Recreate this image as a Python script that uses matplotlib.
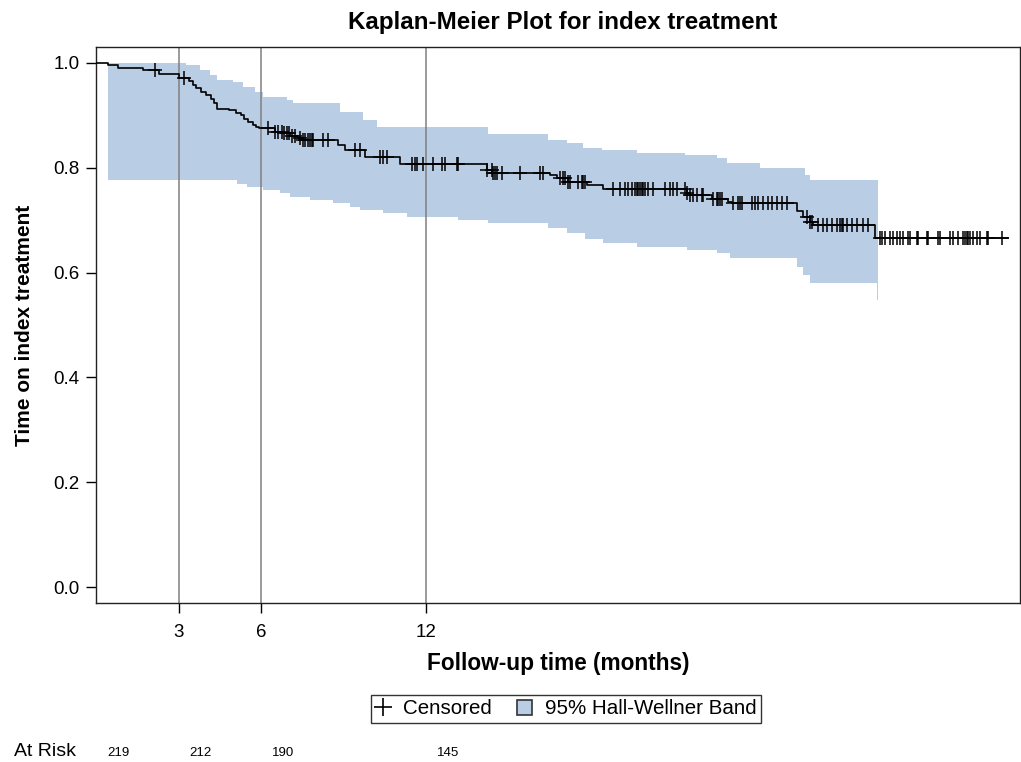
import numpy as np
import matplotlib
matplotlib.use("Agg")
import matplotlib.pyplot as plt
import matplotlib.transforms as mtransforms
from matplotlib.lines import Line2D
from matplotlib.patches import Patch

# Kaplan-Meier estimate (months, survival after each drop)
event_times = [0, 0.42, 0.79, 1.70, 2.30, 3.00, 3.39, 3.52, 3.64, 3.82, 4.00, 4.18,
               4.30, 4.39, 4.85, 5.09, 5.27, 5.39, 5.52, 5.70, 5.82, 5.94, 6.51, 6.81,
               7.05, 7.30, 7.54, 8.81, 9.05, 9.78, 11.05, 14.20, 14.40, 16.51, 16.75,
               17.17, 17.84, 18.44, 21.48, 21.60, 22.39, 22.99, 23.12, 25.48, 25.72,
               25.96, 26.08, 28.33]
survival = [1.0, 0.996, 0.990, 0.987, 0.979, 0.972, 0.965, 0.958, 0.952, 0.945, 0.939,
            0.932, 0.923, 0.913, 0.910, 0.905, 0.900, 0.894, 0.888, 0.882, 0.877, 0.875,
            0.869, 0.866, 0.860, 0.857, 0.853, 0.844, 0.834, 0.821, 0.808, 0.796, 0.791,
            0.786, 0.780, 0.773, 0.767, 0.759, 0.751, 0.748, 0.741, 0.735, 0.732, 0.717,
            0.707, 0.697, 0.691, 0.666]
curve_end = 33.16

censor_times = [2.16, 3.21, 6.25, 6.51, 6.63, 6.75, 6.85, 6.93, 7.03, 7.12, 7.24, 7.42,
                7.54, 7.60, 7.72, 7.78, 7.84, 7.90, 8.27, 8.45, 9.42, 9.60, 10.33, 10.45,
                10.57, 11.48, 11.60, 11.66, 11.90, 12.26, 12.57, 12.69, 13.11, 13.17,
                14.20, 14.39, 14.45, 14.51, 14.57, 14.75, 15.42, 16.15, 16.27, 16.87,
                16.99, 17.05, 17.17, 17.24, 17.54, 17.66, 17.72, 17.78, 18.81, 19.05,
                19.24, 19.36, 19.48, 19.60, 19.66, 19.72, 19.78, 19.84, 19.90, 19.96,
                20.08, 20.27, 20.69, 20.87, 20.99, 21.12, 21.42, 21.48, 21.60, 21.72,
                21.84, 22.02, 22.08, 22.45, 22.57, 22.63, 22.69, 22.75, 23.17, 23.36,
                23.42, 23.48, 23.84, 23.96, 24.08, 24.27, 24.45, 24.57, 24.75, 24.93,
                25.11, 25.84, 25.96, 26.02, 26.27, 26.45, 26.57, 26.75, 26.93, 27.05,
                27.12, 27.17, 27.30, 27.48, 27.66, 27.90, 28.08, 28.51, 28.57, 28.69,
                28.87, 28.99, 29.12, 29.24, 29.36, 29.54, 29.60, 29.84, 29.90, 30.21,
                30.27, 30.63, 30.69, 31.05, 31.17, 31.36, 31.54, 31.60, 31.66, 31.72,
                31.78, 31.90, 32.02, 32.15, 32.39, 32.45, 32.93]

# 95% Hall-Wellner band (step functions)
upper_times = [0.42, 3.27, 3.78, 4.15, 4.39, 4.99, 5.36, 5.78, 6.08, 6.93, 7.17, 8.87,
               9.72, 10.21, 14.25, 16.44, 17.12, 17.72, 18.39, 19.66, 21.42, 22.57,
               22.93, 24.15, 25.79, 25.96]
upper_vals = [1.0, 0.996, 0.987, 0.977, 0.968, 0.964, 0.955, 0.945, 0.936, 0.929, 0.923,
              0.907, 0.891, 0.878, 0.865, 0.853, 0.847, 0.837, 0.834, 0.828, 0.824,
              0.818, 0.809, 0.800, 0.786, 0.777]
lower_times = [0.42, 5.12, 5.48, 6.08, 6.69, 7.05, 7.78, 8.63, 9.24, 9.60, 10.45, 11.30,
               13.17, 14.27, 16.45, 17.12, 17.78, 18.45, 19.66, 21.48, 22.57, 23.05,
               25.48, 25.72, 25.96, 28.39]
lower_vals = [0.777, 0.770, 0.764, 0.758, 0.751, 0.745, 0.739, 0.732, 0.726, 0.720,
              0.713, 0.707, 0.700, 0.694, 0.685, 0.675, 0.665, 0.656, 0.649, 0.643,
              0.637, 0.627, 0.611, 0.595, 0.580, 0.548]
band_end = 28.44

ref_months = [3, 6, 12]
at_risk_times = [0, 3, 6, 12]
at_risk_counts = [219, 212, 190, 145]

BAND_COLOR = "#B9CDE5"

plt.rcParams["font.family"] = ["Liberation Sans", "DejaVu Sans"]


def step_lookup(times, vals, t):
    idx = np.searchsorted(times, t, side="right") - 1
    return np.asarray(vals)[np.clip(idx, 0, None)]


fig = plt.figure(figsize=(10.21, 7.62), dpi=100)
ax = fig.add_axes([96 / 1021, 1 - 603 / 762, 924 / 1021, 556 / 762])

# confidence band
grid = np.union1d(np.union1d(upper_times, lower_times), [band_end])
ax.fill_between(grid, step_lookup(lower_times, lower_vals, grid),
                step_lookup(upper_times, upper_vals, grid),
                step="post", color=BAND_COLOR, lw=0, zorder=1)

# reference lines
for m in ref_months:
    ax.axvline(m, color="#808080", lw=1.1, zorder=2)

# KM curve
t_line = list(event_times) + [curve_end]
s_line = list(survival) + [survival[-1]]
ax.step(t_line, s_line, where="post", color="black", lw=1.2, zorder=3)

cens_y = step_lookup(event_times, survival, np.array(censor_times))
ax.plot(censor_times, cens_y, linestyle="None", marker="+", color="black",
        markersize=9.5, markeredgewidth=1.1, zorder=4)

ax.set_xlim(0, 33.6)
ax.set_ylim(-0.0305, 1.0305)
ax.set_xticks(ref_months)
ax.set_yticks(np.arange(0, 1.01, 0.2))
ax.set_yticklabels([f"{v:.1f}" for v in np.arange(0, 1.01, 0.2)])
ax.tick_params(axis="both", direction="out", length=7, width=1, labelsize=13.5)
ax.tick_params(axis="x", pad=8)
ax.tick_params(axis="y", pad=5)
for sp in ax.spines.values():
    sp.set_linewidth(1.0)
    sp.set_color("#222222")

ax.set_xlabel("Follow-up time (months)", fontsize=16.3, fontweight="bold", labelpad=8)
ax.set_ylabel("Time on index treatment", fontsize=15, fontweight="bold", labelpad=14)
fig.text(563 / 1021, 1 - 22 / 762, "Kaplan-Meier Plot for index treatment",
         ha="center", va="center", fontsize=17.4, fontweight="bold")

handles = [Line2D([], [], marker="+", color="black", linestyle="None",
                  markersize=13, markeredgewidth=1.2),
           Patch(facecolor=BAND_COLOR, edgecolor="#333333", linewidth=1.2)]
leg = fig.legend(handles, ["Censored", "95% Hall-Wellner Band"], ncol=2,
                 loc="center", bbox_to_anchor=(566 / 1021, 1 - 709 / 762),
                 fontsize=14.8, frameon=True, fancybox=False, edgecolor="black",
                 handlelength=0.75, handleheight=0.75, handletextpad=0.6,
                 columnspacing=1.2, borderpad=0.22, borderaxespad=0)
leg.get_frame().set_linewidth(1.0)

# at-risk table
fig.text(14 / 1021, 1 - 752 / 762, "At Risk", ha="left", va="center", fontsize=14)
risk_trans = mtransforms.offset_copy(
    mtransforms.blended_transform_factory(ax.transData, fig.transFigure),
    fig=fig, x=22, y=0, units="dots")
for t, n in zip(at_risk_times, at_risk_counts):
    ax.text(t, 1 - 753 / 762, str(n), transform=risk_trans, ha="center",
            va="center", fontsize=9.5, clip_on=False)

fig.savefig("out.png", dpi=100)
